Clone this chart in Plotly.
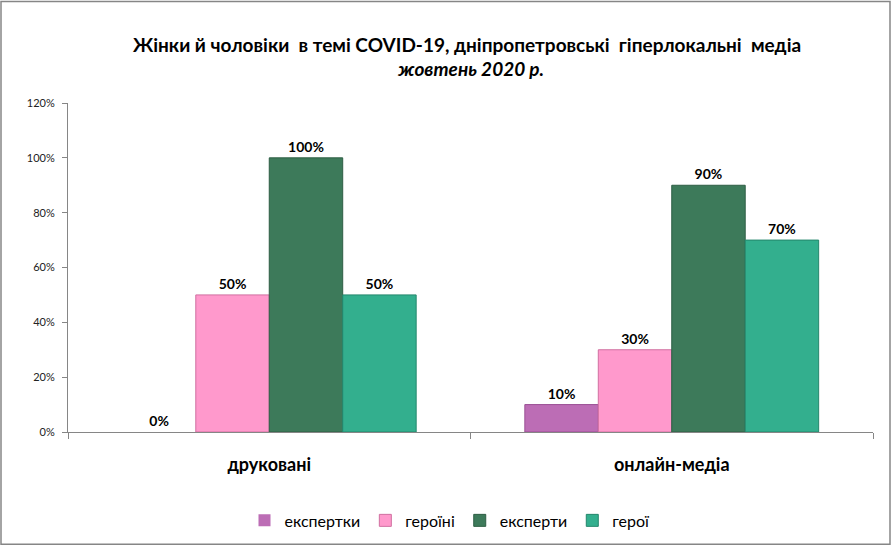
import plotly.graph_objects as go

categories = ["друковані", "онлайн-медіа"]
series_names = ["експертки", "героїні", "експерти", "герої"]
ekspertky = [0.0, 0.10]
heroini = [0.50, 0.30]
eksperty = [1.00, 0.90]
heroi = [0.50, 0.70]
series_values = [ekspertky, heroini, eksperty, heroi]
colors = ["#BC6DB5", "#FF99CC", "#3D7A5A", "#33AF8E"]
line_colors = ["#9A4F94", "#D070A0", "#2E5E44", "#24876C"]
y_ticks = [0, 0.2, 0.4, 0.6, 0.8, 1.0, 1.2]

FONT = "Lato"

fig = go.Figure()
for name, vals, c, lc in zip(series_names, series_values, colors, line_colors):
    fig.add_trace(go.Bar(
        x=categories, y=vals, name=name,
        marker=dict(color=c, line=dict(color=lc, width=[0 if v == 0 else 1 for v in vals])),
        text=[f"{v:.0%}" for v in vals], textposition="outside",
        textfont=dict(family=FONT, size=14, color="#000000", weight="bold"),
        cliponaxis=False,
    ))

W, H = 892, 549
ml, mr, mt, mb = 68, 19, 103, 115
pw, ph = W - ml - mr, H - mt - mb

def px(x):
    return (x - ml) / pw

def py(y):
    return (H - mb - y) / ph

fig.update_layout(
    width=W, height=H,
    margin=dict(l=ml, r=mr, t=mt, b=mb),
    paper_bgcolor="white", plot_bgcolor="white",
    barmode="group", bargap=0.27, bargroupgap=0,
    font=dict(family=FONT, color="#000000"),
    showlegend=True,
    legend=dict(orientation="h", x=px(450), xanchor="center", y=py(523), yanchor="middle",
                font=dict(family=FONT, size=16, color="#000000"),
                itemwidth=30, tracegroupgap=0, traceorder="normal"),
    xaxis=dict(showline=True, linecolor="#868686", linewidth=1,
               ticks="outside", ticklen=6, tickcolor="#868686", tickson="boundaries",
               tickfont=dict(family=FONT, size=18, color="#000000", weight="bold"),
               ticklabelstandoff=16, showgrid=False, zeroline=False),
    yaxis=dict(range=[0, 1.2], tickvals=y_ticks, tickformat=".0%",
               showline=True, linecolor="#868686", linewidth=1,
               ticks="outside", ticklen=5, tickcolor="#868686",
               tickfont=dict(family=FONT, size=11, color="#222222"),
               ticklabelstandoff=5,
               showgrid=False, zeroline=False),
    annotations=[
        dict(text="<b>Жінки й чоловіки  в темі COVID-19, дніпропетровські  гіперлокальні  медіа</b>",
             x=px(467), y=py(44), xref="paper", yref="paper", showarrow=False,
             font=dict(family=FONT, size=19, color="#000000"), xanchor="center", yanchor="middle"),
        dict(text="<b><i>жовтень 2020 р.</i></b>",
             x=px(470), y=py(68), xref="paper", yref="paper", showarrow=False,
             font=dict(family=FONT, size=19, color="#000000"), xanchor="center", yanchor="middle"),
    ],
    shapes=[dict(type="rect", xref="paper", yref="paper",
                 x0=px(1), x1=px(890), y0=py(547), y1=py(1),
                 line=dict(color="#868686", width=1.5), fillcolor="rgba(0,0,0,0)", layer="below")],
)

fig.write_html("out.html")
